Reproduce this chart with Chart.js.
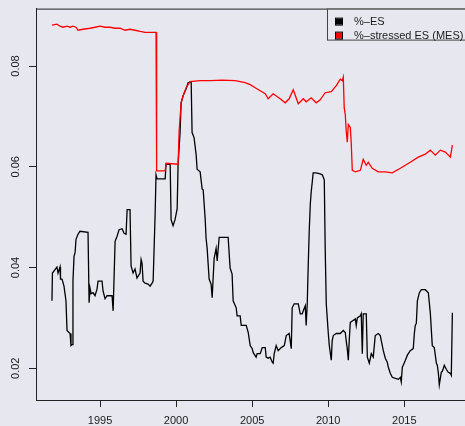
<!DOCTYPE html>
<html>
<head>
<meta charset="utf-8">
<script src="https://cdn.jsdelivr.net/npm/chart.js@4.4.1/dist/chart.umd.min.js"></script>
<style>
  html, body { margin: 0; padding: 0; background: #e7e7f0; overflow: hidden; }
  canvas { display: block; }
</style>
</head>
<body>
<canvas id="esChart" width="465" height="426"></canvas>
<script>
// [year, value]
const esSeries = [
  [1991.84,0.0334],[1991.87,0.0389],[1992.17,0.0401],[1992.24,0.0389],[1992.37,0.0401],[1992.40,0.0377],[1992.50,0.0377],[1992.63,0.0363],[1992.76,0.0334],[1992.83,0.0275],
  [1993.03,0.0269],[1993.09,0.0245],[1993.16,0.0247],[1993.22,0.0373],[1993.29,0.0422],[1993.36,0.0430],[1993.42,0.0456],[1993.55,0.0466],[1993.68,0.0472],[1994.21,0.0470],
  [1994.28,0.0330],[1994.34,0.0359],[1994.41,0.0348],[1994.54,0.0350],[1994.67,0.0344],[1994.80,0.0357],[1994.87,0.0373],[1995.13,0.0373],[1995.20,0.0353],[1995.33,0.0338],
  [1995.46,0.0344],[1995.79,0.0344],[1995.86,0.0314],[1995.99,0.0452],[1996.12,0.0462],[1996.25,0.0475],[1996.45,0.0477],[1996.58,0.0468],[1996.71,0.0466],[1996.78,0.0515],
  [1996.97,0.0515],[1997.04,0.0403],[1997.17,0.0389],[1997.30,0.0397],[1997.43,0.0379],[1997.63,0.0389],[1997.70,0.0416],[1997.76,0.0409],[1997.83,0.0373],[1997.96,0.0369],
  [1998.16,0.0367],[1998.29,0.0363],[1998.42,0.0369],[1998.49,0.0373],[1998.62,0.0505],[1998.68,0.0584],[1998.75,0.0576],[1999.28,0.0576],[1999.34,0.0605],[1999.61,0.0605],
  [1999.67,0.0495],[1999.80,0.0483],[1999.93,0.0495],[2000.07,0.0517],[2000.13,0.0605],[2000.26,0.0668],[2000.33,0.0727],[2000.46,0.0741],[2000.66,0.0755],[2000.79,0.0767],
  [2000.99,0.0769],[2001.05,0.0668],[2001.18,0.0658],[2001.32,0.0623],[2001.38,0.0595],[2001.58,0.0590],[2001.71,0.0556],[2001.78,0.0554],[2001.91,0.0497],[2001.97,0.0458],
  [2002.04,0.0438],[2002.17,0.0377],[2002.30,0.0367],[2002.37,0.0340],[2002.50,0.0418],[2002.63,0.0438],[2002.70,0.0413],[2002.83,0.0460],[2003.42,0.0460],[2003.55,0.0399],
  [2003.68,0.0387],[2003.75,0.0334],[2003.95,0.0320],[2004.01,0.0304],[2004.21,0.0304],[2004.28,0.0285],[2004.61,0.0285],[2004.74,0.0271],[2004.87,0.0245],[2005.00,0.0239],
  [2005.07,0.0231],[2005.26,0.0222],[2005.33,0.0229],[2005.53,0.0229],[2005.66,0.0241],[2005.86,0.0241],[2005.92,0.0222],[2006.05,0.0220],[2006.18,0.0222],[2006.32,0.0212],
  [2006.38,0.0210],[2006.45,0.0229],[2006.58,0.0245],[2006.71,0.0235],[2006.91,0.0241],[2007.11,0.0245],[2007.24,0.0265],[2007.43,0.0269],[2007.57,0.0239],[2007.63,0.0320],
  [2007.76,0.0328],[2008.03,0.0328],[2008.16,0.0308],[2008.29,0.0308],[2008.36,0.0314],[2008.49,0.0324],[2008.55,0.0285],[2008.62,0.0328],[2008.68,0.0399],[2008.75,0.0472],
  [2008.82,0.0525],[2008.88,0.0550],[2008.95,0.0570],[2009.01,0.0588],[2009.21,0.0588],[2009.47,0.0586],[2009.61,0.0584],[2009.74,0.0574],[2009.80,0.0438],[2009.87,0.0328],
  [2010.00,0.0271],[2010.07,0.0245],[2010.20,0.0216],[2010.26,0.0255],[2010.33,0.0265],[2010.53,0.0269],[2010.79,0.0269],[2010.99,0.0275],[2011.12,0.0271],[2011.18,0.0255],
  [2011.25,0.0239],[2011.32,0.0216],[2011.38,0.0255],[2011.45,0.0291],[2011.58,0.0294],[2011.78,0.0298],[2011.84,0.0285],[2011.91,0.0300],[2012.11,0.0304],[2012.17,0.0308],
  [2012.24,0.0229],[2012.30,0.0308],[2012.50,0.0308],[2012.57,0.0222],[2012.70,0.0210],[2012.83,0.0229],[2012.96,0.0222],[2013.09,0.0265],[2013.29,0.0269],[2013.42,0.0265],
  [2013.62,0.0235],[2013.75,0.0220],[2013.88,0.0212],[2013.95,0.0202],[2014.08,0.0190],[2014.21,0.0182],[2014.41,0.0180],[2014.61,0.0178],[2014.74,0.0182],[2014.80,0.0173],
  [2014.87,0.0202],[2014.93,0.0206],[2015.07,0.0216],[2015.20,0.0226],[2015.39,0.0235],[2015.59,0.0239],[2015.66,0.0269],[2015.72,0.0285],[2015.79,0.0289],[2015.86,0.0334],
  [2015.99,0.0350],[2016.12,0.0356],[2016.38,0.0356],[2016.58,0.0350],[2016.71,0.0310],[2016.84,0.0245],[2016.97,0.0241],[2017.11,0.0210],[2017.17,0.0206],[2017.24,0.0190],
  [2017.30,0.0167],[2017.43,0.0192],[2017.50,0.0194],[2017.57,0.0200],[2017.63,0.0206],[2017.76,0.0198],[2017.89,0.0192],[2018.03,0.0190],[2018.09,0.0186],[2018.16,0.0310]
];

const mesSeries = [
  [1991.84,0.0881],[1992.17,0.0883],[1992.37,0.0879],[1992.57,0.0877],[1992.83,0.0879],[1993.03,0.0877],[1993.22,0.0879],[1993.42,0.0877],[1993.55,0.0871],[1993.88,0.0873],
  [1994.34,0.0875],[1994.67,0.0877],[1995.00,0.0879],[1995.33,0.0877],[1995.66,0.0877],[1995.99,0.0875],[1996.32,0.0875],[1996.64,0.0871],[1996.97,0.0873],[1997.30,0.0871],
  [1997.63,0.0869],[1997.96,0.0867],[1998.29,0.0867],[1998.62,0.0867],[1998.68,0.0867],[1998.72,0.0592],[1999.28,0.0592],[1999.34,0.0607],[2000.13,0.0605],[2000.20,0.0672],
  [2000.33,0.0727],[2000.46,0.0741],[2000.66,0.0757],[2000.92,0.0769],[2001.58,0.0771],[2002.24,0.0771],[2003.03,0.0772],[2003.88,0.0771],[2004.54,0.0767],[2004.87,0.0763],
  [2005.20,0.0757],[2005.53,0.0751],[2005.86,0.0745],[2006.05,0.0735],[2006.38,0.0745],[2006.84,0.0735],[2007.17,0.0727],[2007.43,0.0735],[2007.70,0.0753],[2007.89,0.0737],
  [2008.03,0.0725],[2008.36,0.0735],[2008.55,0.0729],[2008.88,0.0737],[2009.21,0.0727],[2009.47,0.0733],[2009.80,0.0747],[2010.20,0.0749],[2010.53,0.0761],[2010.79,0.0774],
  [2010.92,0.0771],[2010.99,0.0778],[2011.05,0.0717],[2011.12,0.0704],[2011.18,0.0672],[2011.25,0.0649],[2011.32,0.0684],[2011.45,0.0678],[2011.51,0.0649],[2011.58,0.0593],
  [2011.78,0.0590],[2012.11,0.0593],[2012.30,0.0615],[2012.50,0.0603],[2012.63,0.0609],[2012.89,0.0597],[2013.29,0.0590],[2013.75,0.0590],[2014.21,0.0588],[2014.74,0.0597],
  [2015.39,0.0609],[2015.92,0.0619],[2016.38,0.0625],[2016.71,0.0633],[2017.04,0.0623],[2017.37,0.0633],[2017.70,0.0629],[2018.03,0.0619],[2018.16,0.0643]
];

const seriesLabels = ['%–ES', '%–stressed ES (MES)'];
const seriesColors = ['#000000', '#ff0000'];
const xTicks = [1995, 2000, 2005, 2010, 2015];
const yTicks = [0.02, 0.04, 0.06, 0.08];

Chart.defaults.font.family = '"Liberation Sans", Arial, sans-serif';
Chart.defaults.font.size = 11;
Chart.defaults.color = '#1a1a1a';

const frameAndLegend = {
    id: 'frameAndLegend',
    afterDraw(chart) {
        const { ctx, chartArea } = chart;
        ctx.save();
        ctx.strokeStyle = '#222';
        ctx.lineWidth = 1;
        ctx.beginPath();
        ctx.moveTo(chartArea.left, chartArea.top + 0.5);
        ctx.lineTo(chartArea.right, chartArea.top + 0.5);
        ctx.stroke();

        // legend box, runs off the right edge like the original
        const bx = 327.5, by = chartArea.top + 0.5, bh = 31;
        ctx.fillStyle = '#e7e7f0';
        ctx.fillRect(bx, by, chart.width, bh);
        ctx.strokeStyle = '#444';
        ctx.strokeRect(bx, by, chart.width, bh);

        ctx.font = '11px "Liberation Sans", Arial, sans-serif';
        ctx.textBaseline = 'middle';
        ctx.textAlign = 'left';
        chart.data.datasets.forEach((ds, i) => {
            const cy = by + 12.5 + i * 14;
            ctx.fillStyle = ds.borderColor;
            ctx.fillRect(336, cy - 3, 6, 6);
            ctx.strokeStyle = '#000';
            ctx.strokeRect(335.5, cy - 3.5, 7, 7);
            ctx.fillStyle = '#1a1a1a';
            ctx.fillText(ds.label, 354, cy + 0.5);
        });
        ctx.restore();
    }
};

new Chart(document.getElementById('esChart'), {
    type: 'line',
    data: {
        datasets: [
            {
                label: seriesLabels[0],
                data: esSeries.map(([x, y]) => ({ x, y })),
                borderColor: seriesColors[0],
                borderWidth: 1.3,
                order: 1
            },
            {
                label: seriesLabels[1],
                data: mesSeries.map(([x, y]) => ({ x, y })),
                borderColor: seriesColors[1],
                borderWidth: 1.3,
                order: 0
            }
        ]
    },
    options: {
        responsive: false,
        animation: false,
        layout: { padding: { top: 5, left: 0, right: 0, bottom: 0 } },
        elements: {
            point: { radius: 0 },
            line: { tension: 0, fill: false }
        },
        plugins: {
            legend: { display: false },
            tooltip: { enabled: false }
        },
        scales: {
            x: {
                type: 'linear',
                min: 1990.79,
                max: 2018.99,
                afterFit: (scale) => { scale.height = 26; },
                afterBuildTicks: (scale) => { scale.ticks = xTicks.map(v => ({ value: v })); },
                ticks: {
                    padding: 7,
                    autoSkip: false,
                    maxRotation: 0,
                    callback: (v) => String(v)
                },
                grid: { drawOnChartArea: false, drawTicks: true, tickLength: 7, tickColor: '#222' },
                border: { display: true, color: '#222', width: 1 }
            },
            y: {
                min: 0.0137,
                max: 0.0914,
                afterFit: (scale) => { scale.width = 36; },
                afterBuildTicks: (scale) => { scale.ticks = yTicks.map(v => ({ value: v })); },
                ticks: {
                    padding: 2,
                    autoSkip: false,
                    minRotation: 90,
                    maxRotation: 90,
                    crossAlign: 'center',
                    callback: (v) => v.toFixed(2)
                },
                grid: { drawOnChartArea: false, drawTicks: true, tickLength: 7, tickColor: '#222' },
                border: { display: true, color: '#222', width: 1 }
            }
        }
    },
    plugins: [frameAndLegend]
});
</script>
</body>
</html>
